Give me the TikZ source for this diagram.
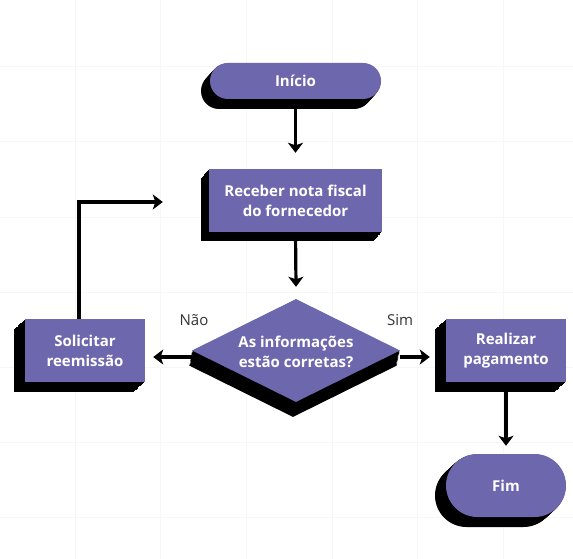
\documentclass[tikz,border=0pt]{standalone}
\usepackage{fontspec}
\setmainfont{Open Sans}
\usetikzlibrary{shapes.geometric,shapes.misc,arrows.meta,shadows}
\definecolor{pur}{HTML}{6D67AE}
\definecolor{gridc}{HTML}{F7F7F7}
\definecolor{lbl}{HTML}{333333}
\tikzset{
 ext/.style 2 args={
  general shadow={fill=black,shadow xshift=#1*1.0,shadow yshift=#2*1.0},
  general shadow={fill=black,shadow xshift=#1*0.92,shadow yshift=#2*0.92},
  general shadow={fill=black,shadow xshift=#1*0.84,shadow yshift=#2*0.84},
  general shadow={fill=black,shadow xshift=#1*0.76,shadow yshift=#2*0.76},
  general shadow={fill=black,shadow xshift=#1*0.68,shadow yshift=#2*0.68},
  general shadow={fill=black,shadow xshift=#1*0.6,shadow yshift=#2*0.6},
  general shadow={fill=black,shadow xshift=#1*0.52,shadow yshift=#2*0.52},
  general shadow={fill=black,shadow xshift=#1*0.44,shadow yshift=#2*0.44},
  general shadow={fill=black,shadow xshift=#1*0.36,shadow yshift=#2*0.36},
  general shadow={fill=black,shadow xshift=#1*0.28,shadow yshift=#2*0.28},
  general shadow={fill=black,shadow xshift=#1*0.2,shadow yshift=#2*0.2},
  general shadow={fill=black,shadow xshift=#1*0.12,shadow yshift=#2*0.12},
  general shadow={fill=black,shadow xshift=#1*0.04,shadow yshift=#2*0.04}},
 boxbase/.style={fill=pur,text=white,font=\bfseries\fontsize{15}{20}\selectfont,align=center,inner sep=0pt},
 proc/.style={boxbase,rectangle,minimum height=63pt},
 term/.style={boxbase,rounded rectangle},
 dec/.style={diamond,fill=pur,minimum width=208pt,minimum height=103pt,inner sep=0pt},
 dectext/.style={text=white,font=\bfseries\fontsize{15}{20}\selectfont,align=center,inner sep=0pt},
 conn/.style={line width=3.2pt,-{Stealth[length=10pt,width=15pt,inset=2.5pt]}},
 lab/.style={text=lbl,font=\fontsize{15}{18}\selectfont,inner sep=0pt},
 gridline/.style={gridc,line width=1pt}
}
\begin{document}
\begin{tikzpicture}[x=1pt,y=-1pt]
\useasboundingbox (0,0) rectangle (573,559);
\fill[white] (0,0) rectangle (573,559);
% grid
\foreach \x in {75,160.7,246.4,332.1,417.8,503.5}
  \draw[gridline] (\x,0) -- (\x,559);
\foreach \y in {67,142,217,292,367,442,517}
  \draw[gridline] (0,\y) -- (573,\y);
% nodes
\node[term,ext={-9pt}{-10pt},minimum width=171pt,minimum height=36pt] (ini) at (295.5,81) {Início};
\node[proc,ext={-8pt}{-9pt},minimum width=173pt] (rec) at (295.5,200.5) {Receber nota fiscal\\do fornecedor};
\node[dec,ext={-3pt}{-15pt}] (dia) at (296,350.5) {};
\node[dectext] (diat) at (296,351.5) {As informações\\estão corretas?};
\node[proc,ext={-11pt}{-10pt},minimum width=120pt] (sol) at (85,350.5) {Solicitar\\reemissão};
\node[proc,ext={-11pt}{-10pt},minimum width=120pt] (rea) at (506,350.5) {Realizar\\pagamento};
\node[term,ext={-11pt}{-10pt},minimum width=120pt,minimum height=63pt] (fim) at (506,485.5) {Fim};
% labels
\node[lab] (nao) at (194,320) {Não};
\node[lab] (sim) at (400,320) {Sim};
% connectors
\draw[conn] (ini.south) -- ([yshift=16pt]rec.north);
\draw[conn] (rec.south) -- ([yshift=12pt]dia.north);
\draw[conn] ([yshift=-6.5pt]dia.west) -- ([xshift=8pt,yshift=-6.5pt]sol.east);
\draw[conn] ([yshift=-6.5pt]dia.east) -- ([xshift=-16pt,yshift=-6.5pt]rea.west);
\draw[conn] ([xshift=-6pt]sol.north) |- ([xshift=-46pt,yshift=-1.5pt]rec.west);
\draw[conn] (rea.south) -- ([yshift=8pt]fim.north);
\end{tikzpicture}
\end{document}
